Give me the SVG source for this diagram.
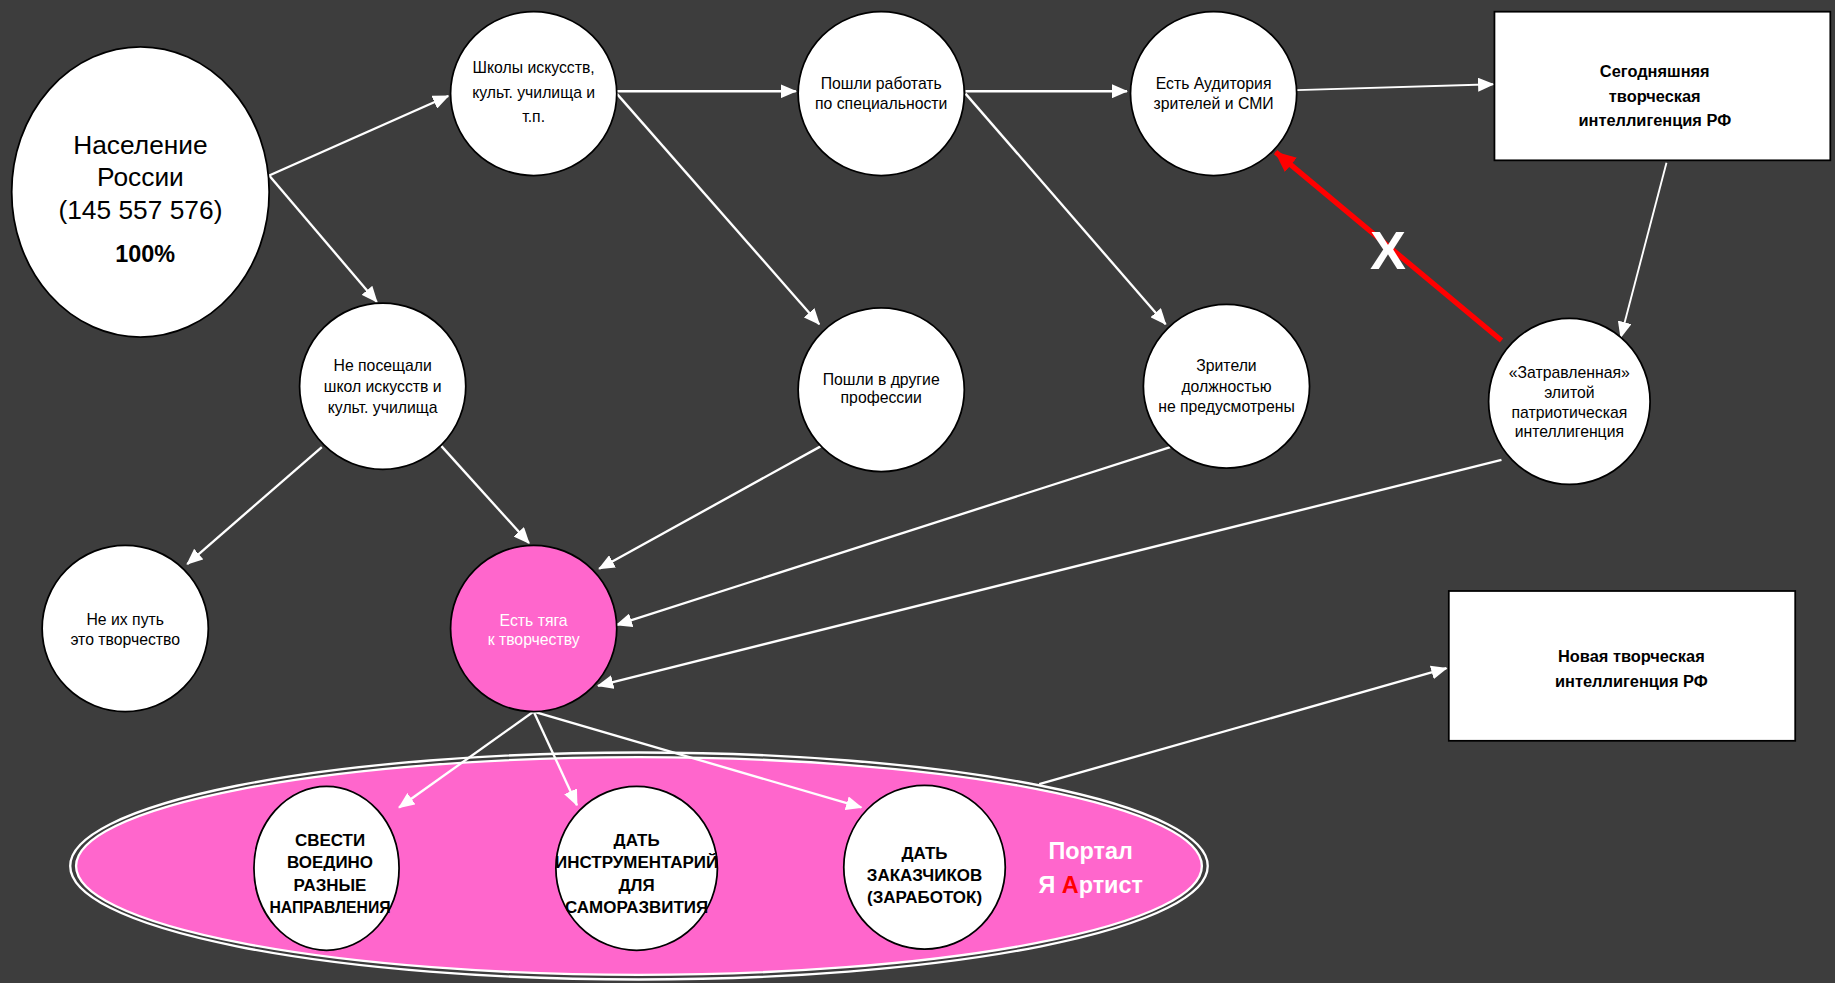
<svg xmlns="http://www.w3.org/2000/svg" width="1835" height="983" viewBox="0 0 1835 983">
<style>
.n{fill:#fff;stroke:#000;stroke-width:1.5}
.p{fill:#ff66cc;stroke:#000;stroke-width:1.5}
.t{font-family:"Liberation Sans Narrow","Liberation Sans",Arial,sans-serif;font-size:13.5px;fill:#000;text-anchor:middle}
.big{font-size:22.5px}
.w{fill:#fff}
.tb{font-family:"Liberation Sans",Arial,sans-serif;font-size:14px;font-weight:bold;fill:#000;text-anchor:middle}
.tc{font-family:"Liberation Sans Narrow","Liberation Sans",Arial,sans-serif;font-size:14.5px;font-weight:bold;fill:#000;text-anchor:middle}
.c{stroke:#fff;stroke-width:2;fill:none}
.thin{stroke-width:1.6}
</style>
<defs>
<marker id="aw" markerUnits="userSpaceOnUse" markerWidth="14" markerHeight="12" refX="13" refY="6" orient="auto"><path d="M0,0 L14,6 L0,12 z" fill="#fff"/></marker>
<marker id="ar" markerUnits="userSpaceOnUse" markerWidth="18" markerHeight="16" refX="17" refY="8" orient="auto"><path d="M0,0 L18,8 L0,16 z" fill="#f00"/></marker>
</defs>
<rect width="1835" height="983" fill="#3d3d3d"/>
<g transform="scale(1.17028)">
<g id="portal">
<ellipse cx="546" cy="740" rx="486" ry="97" fill="none" stroke="#fff" stroke-width="2"/>
<ellipse cx="546" cy="740" rx="481" ry="93" fill="#ff66cc" stroke="#fff" stroke-width="2"/>
<text x="932" y="734" font-family="Liberation Sans,Arial,sans-serif" font-size="20" font-weight="bold" fill="#fff" text-anchor="middle">Портал</text>
<text x="932" y="763" font-family="Liberation Sans,Arial,sans-serif" font-size="20" font-weight="bold" fill="#fff" text-anchor="middle">Я <tspan fill="#f00">А</tspan>ртист</text>
</g>
<g id="connectors">
<path class="c" d="M230,150 L383,82" marker-end="url(#aw)"/>
<path class="c" d="M230,150 L322,258" marker-end="url(#aw)"/>
<path class="c" d="M527,78 L680,78" marker-end="url(#aw)"/>
<path class="c" d="M527,80 L700,277" marker-end="url(#aw)"/>
<path class="c" d="M825,78 L963,78" marker-end="url(#aw)"/>
<path class="c" d="M825,80 L996,277" marker-end="url(#aw)"/>
<path class="c thin" d="M1108,77 L1276,72" marker-end="url(#aw)"/>
<path class="c thin" d="M1424,139 L1385,288" marker-end="url(#aw)"/>
<path d="M1283,291 L1090,130" stroke="#f00" stroke-width="4.5" fill="none" marker-end="url(#ar)"/>
<path class="c" d="M275,382 L160,482" marker-end="url(#aw)"/>
<path class="c" d="M377,381 L452,464" marker-end="url(#aw)"/>
<path class="c" d="M702,381 L512,486" marker-end="url(#aw)"/>
<path class="c" d="M1000,382 L527,534" marker-end="url(#aw)"/>
<path class="c" d="M1283,393 L511,586" marker-end="url(#aw)"/>
<path class="c" d="M456,608 L341,690" marker-end="url(#aw)"/>
<path class="c" d="M456,608 L493,688" marker-end="url(#aw)"/>
<path class="c" d="M456,608 L736,690" marker-end="url(#aw)"/>
<path class="c" d="M888,670 L1236,571" marker-end="url(#aw)"/>
</g>
<text x="1186" y="230" font-family="Liberation Sans,Arial,sans-serif" font-size="46" font-weight="bold" fill="#fff" text-anchor="middle">X</text>
<g id="naselenie">
<ellipse class="n" cx="120" cy="164" rx="110" ry="124"/>
<text class="t big" x="120" y="132">Население</text>
<text class="t big" x="120" y="159">России</text>
<text class="t big" x="120" y="187">(145 557 576)</text>
<text x="124" y="224" font-family="Liberation Sans,Arial,sans-serif" font-size="20" font-weight="bold" text-anchor="middle">100%</text>
</g>
<g id="shkoly">
<ellipse class="n" cx="456" cy="80" rx="71" ry="70"/>
<text class="t" x="456" y="62">Школы искусств,</text>
<text class="t" x="456" y="84">культ. училища и</text>
<text class="t" x="456" y="104">т.п.</text>
</g>
<g id="poshli-rabotat">
<ellipse class="n" cx="753" cy="80" rx="71" ry="70"/>
<text class="t" x="753" y="76">Пошли работать</text>
<text class="t" x="753" y="93">по специальности</text>
</g>
<g id="auditoriya">
<ellipse class="n" cx="1037" cy="80" rx="71" ry="70"/>
<text class="t" x="1037" y="76">Есть Аудитория</text>
<text class="t" x="1037" y="93">зрителей и СМИ</text>
</g>
<g id="segodnya">
<rect x="1277" y="10" width="287" height="127" fill="#fff" stroke="#000" stroke-width="1.5"/>
<text class="tb" x="1414" y="66">Сегодняшняя</text>
<text class="tb" x="1414" y="87">творческая</text>
<text class="tb" x="1414" y="108">интеллигенция РФ</text>
</g>
<g id="ne-poseshchali">
<ellipse class="n" cx="327" cy="330" rx="71" ry="71"/>
<text class="t" x="327" y="317">Не посещали</text>
<text class="t" x="327" y="335">школ искусств и</text>
<text class="t" x="327" y="353">культ. училища</text>
</g>
<g id="drugie">
<ellipse class="n" cx="753" cy="333" rx="71" ry="70"/>
<text class="t" x="753" y="329">Пошли в другие</text>
<text class="t" x="753" y="344">профессии</text>
</g>
<g id="zriteli">
<ellipse class="n" cx="1048" cy="330" rx="71" ry="70"/>
<text class="t" x="1048" y="317">Зрители</text>
<text class="t" x="1048" y="335">должностью</text>
<text class="t" x="1048" y="352">не предусмотрены</text>
</g>
<g id="zatravlennaya">
<ellipse class="n" cx="1341" cy="343" rx="69" ry="71"/>
<text class="t" x="1341" y="323">«Затравленная»</text>
<text class="t" x="1341" y="340">элитой</text>
<text class="t" x="1341" y="357">патриотическая</text>
<text class="t" x="1341" y="373">интеллигенция</text>
</g>
<g id="ne-ih-put">
<ellipse class="n" cx="107" cy="537" rx="71" ry="71"/>
<text class="t" x="107" y="534">Не их путь</text>
<text class="t" x="107" y="551">это творчество</text>
</g>
<g id="tyaga">
<ellipse class="p" cx="456" cy="537" rx="71" ry="71"/>
<text class="t w" x="456" y="535">Есть тяга</text>
<text class="t w" x="456" y="551">к творчеству</text>
</g>
<g id="novaya">
<rect x="1238" y="505" width="296" height="128" fill="#fff" stroke="#000" stroke-width="1.5"/>
<text class="tb" x="1394" y="566">Новая творческая</text>
<text class="tb" x="1394" y="587">интеллигенция РФ</text>
</g>
<g id="svesti">
<ellipse class="n" cx="279" cy="742" rx="62" ry="70"/>
<text class="tc" x="282" y="723">СВЕСТИ</text>
<text class="tc" x="282" y="742">ВОЕДИНО</text>
<text class="tc" x="282" y="761">РАЗНЫЕ</text>
<text class="tc" x="282" y="780" style="font-size:13.5px">НАПРАВЛЕНИЯ</text>
</g>
<g id="instrumentariy">
<ellipse class="n" cx="544" cy="742" rx="69" ry="70"/>
<text class="tc" x="544" y="723">ДАТЬ</text>
<text class="tc" x="544" y="742">ИНСТРУМЕНТАРИЙ</text>
<text class="tc" x="544" y="761">ДЛЯ</text>
<text class="tc" x="544" y="780">САМОРАЗВИТИЯ</text>
</g>
<g id="zakazchiki">
<ellipse class="n" cx="790" cy="741" rx="69" ry="70"/>
<text class="tc" x="790" y="734">ДАТЬ</text>
<text class="tc" x="790" y="753">ЗАКАЗЧИКОВ</text>
<text class="tc" x="790" y="772">(ЗАРАБОТОК)</text>
</g>
</g>
</svg>
